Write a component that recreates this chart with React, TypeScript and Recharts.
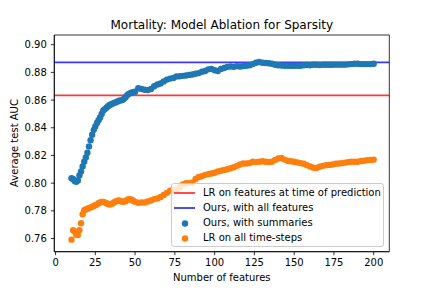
import { ComposedChart, Scatter, XAxis, YAxis, ReferenceLine, ReferenceArea } from 'recharts'

// number of features kept (every run up to 50, every second run after)
const featureCounts = [
  10, 11, 12, 13, 14, 15, 16, 17, 18, 19, 20, 21, 22, 23, 24, 25, 26, 27, 28, 29,
  30, 31, 32, 33, 34, 35, 36, 37, 38, 39, 40, 41, 42, 43, 44, 45, 46, 47, 48, 49,
  50, 52, 54, 56, 58, 60, 62, 64, 66, 68, 70, 72, 74, 76, 78, 80, 82, 84, 86, 88,
  90, 92, 94, 96, 98, 100, 102, 104, 106, 108, 110, 112, 114, 116, 118, 120, 122, 124, 126, 128,
  130, 132, 134, 136, 138, 140, 142, 144, 146, 148, 150, 152, 154, 156, 158, 160, 162, 164, 166, 168,
  170, 172, 174, 176, 178, 180, 182, 184, 186, 188, 190, 192, 194, 196, 198, 200,
]

// Ours, with summaries
const summaryAuc = [
  0.8035, 0.803, 0.8015, 0.801, 0.802, 0.8055, 0.8085, 0.812, 0.8155, 0.8185,
  0.822, 0.8265, 0.831, 0.835, 0.8385, 0.841, 0.8435, 0.8455, 0.8475, 0.85,
  0.8525, 0.8535, 0.8545, 0.8555, 0.8565, 0.857, 0.8575, 0.858, 0.8585, 0.859,
  0.8595, 0.8598, 0.86, 0.861, 0.862, 0.8635, 0.8645, 0.865, 0.8655, 0.8658,
  0.866, 0.8685, 0.868, 0.8675, 0.8672, 0.868, 0.87, 0.8712, 0.872, 0.8735,
  0.8748, 0.8755, 0.876, 0.877, 0.8772, 0.8775, 0.8778, 0.8782, 0.8785, 0.879,
  0.8795, 0.8805, 0.881, 0.8822, 0.8825, 0.8815, 0.881, 0.8825, 0.8832, 0.884,
  0.8843, 0.884, 0.8845, 0.8843, 0.8845, 0.8848, 0.8852, 0.886, 0.887, 0.8875,
  0.887, 0.8868, 0.8866, 0.8862, 0.8855, 0.8852, 0.885, 0.8848, 0.8848, 0.8847,
  0.8848, 0.8848, 0.8848, 0.8852, 0.8853, 0.8852, 0.8855, 0.8855, 0.8853, 0.8855,
  0.8855, 0.8855, 0.8855, 0.8856, 0.8856, 0.8856, 0.8856, 0.8858, 0.886, 0.8862,
  0.8862, 0.886, 0.886, 0.886, 0.886, 0.8862,
]

// LR on all time-steps
const timeStepAuc = [
  0.7592, 0.766, 0.765, 0.7628, 0.7625, 0.766, 0.771, 0.7775, 0.7805, 0.781,
  0.7815, 0.782, 0.7825, 0.783, 0.7835, 0.784, 0.7845, 0.7855, 0.786, 0.7865,
  0.7865, 0.786, 0.7855, 0.785, 0.7845, 0.785, 0.7855, 0.7862, 0.787, 0.7873,
  0.7875, 0.787, 0.7865, 0.7868, 0.787, 0.7878, 0.7885, 0.7882, 0.788, 0.7872,
  0.7865, 0.7858, 0.786, 0.786, 0.7868, 0.7875, 0.7885, 0.789, 0.79, 0.7915,
  0.793, 0.7945, 0.795, 0.7955, 0.797, 0.799, 0.8, 0.8, 0.8005, 0.803,
  0.8045, 0.805, 0.806, 0.8065, 0.807, 0.8075, 0.8085, 0.809, 0.8095, 0.81,
  0.8108, 0.8115, 0.8125, 0.8135, 0.8142, 0.8142, 0.8145, 0.8155, 0.8152, 0.8155,
  0.8158, 0.8155, 0.8152, 0.8155, 0.8168, 0.8178, 0.8182, 0.817, 0.816, 0.8158,
  0.8155, 0.815, 0.8145, 0.814, 0.813, 0.812, 0.8112, 0.811, 0.8118, 0.8125,
  0.813, 0.8132, 0.8135, 0.814, 0.8142, 0.8145, 0.8148, 0.8152, 0.8155, 0.8155,
  0.8155, 0.816, 0.8162, 0.8165, 0.8168, 0.817,
]

const lrPredictionAuc = 0.8634
const allFeaturesAuc = 0.8872

const xTicks = [0, 25, 50, 75, 100, 125, 150, 175, 200]
const yTicks = [0.76, 0.78, 0.8, 0.82, 0.84, 0.86, 0.88, 0.9]

const X_DOMAIN: [number, number] = [-0.8, 209.8]
const Y_DOMAIN: [number, number] = [0.7505, 0.907]

const BLUE = '#1f77b4'
const ORANGE = '#ff7f0e'
const FONT = '"DejaVu Sans", sans-serif'

const summaryData = featureCounts.map((n, i) => ({ n, auc: summaryAuc[i] }))
const timeStepData = featureCounts.map((n, i) => ({ n, auc: timeStepAuc[i] }))

const dot = (p: any) => <circle cx={p.cx} cy={p.cy} r={3.2} fill={p.fill} />

const legendItems = [
  { label: 'LR on features at time of prediction', kind: 'line', color: '#ff0000' },
  { label: 'Ours, with all features', kind: 'line', color: '#0000ff' },
  { label: 'Ours, with summaries', kind: 'dot', color: BLUE },
  { label: 'LR on all time-steps', kind: 'dot', color: ORANGE },
]

export default function App() {
  const tick = { fontSize: 10, fill: '#000', fontFamily: FONT }
  return (
    <div style={{ position: 'absolute', left: 0, top: 0, width: 432, height: 288, background: '#fff' }}>
      <ComposedChart width={432} height={288} margin={{ top: 35, right: 42.7, bottom: 6, left: 0 }}>
        <XAxis
          dataKey="n"
          type="number"
          domain={X_DOMAIN}
          ticks={xTicks}
          allowDataOverflow
          height={30.3}
          tick={tick}
          tickSize={3.5}
          tickMargin={3.5}
          axisLine={{ stroke: '#000', strokeWidth: 0.8 }}
          tickLine={{ stroke: '#000', strokeWidth: 0.8 }}
        />
        <YAxis
          dataKey="auc"
          type="number"
          domain={Y_DOMAIN}
          ticks={yTicks}
          allowDataOverflow
          width={54.3}
          tick={tick}
          tickSize={3.5}
          tickMargin={4}
          tickFormatter={(v: number) => v.toFixed(2)}
          axisLine={{ stroke: '#000', strokeWidth: 0.8 }}
          tickLine={{ stroke: '#000', strokeWidth: 0.8 }}
        />
        <Scatter data={summaryData} fill={BLUE} shape={dot} isAnimationActive={false} />
        <Scatter data={timeStepData} fill={ORANGE} shape={dot} isAnimationActive={false} />
        <ReferenceLine y={lrPredictionAuc} stroke="#ff0000" strokeOpacity={0.78} strokeWidth={1.8} />
        <ReferenceLine y={allFeaturesAuc} stroke="#0000ff" strokeOpacity={0.78} strokeWidth={1.8} />
        <ReferenceArea
          x1={X_DOMAIN[0]}
          x2={X_DOMAIN[1]}
          y1={Y_DOMAIN[0]}
          y2={Y_DOMAIN[1]}
          fill="none"
          fillOpacity={0}
          stroke="#000"
          strokeWidth={0.8}
        />
      </ComposedChart>

      <svg width={432} height={288} style={{ position: 'absolute', left: 0, top: 0, pointerEvents: 'none' }}>
        <text x={221.8} y={29} textAnchor="middle" fontSize={12} fontFamily={FONT} fill="#000">
          Mortality: Model Ablation for Sparsity
        </text>
        <text x={221.8} y={280.6} textAnchor="middle" fontSize={10} fontFamily={FONT} fill="#000">
          Number of features
        </text>
        <text
          x={0}
          y={0}
          transform="translate(18,143) rotate(-90)"
          textAnchor="middle"
          fontSize={10}
          fontFamily={FONT}
          fill="#000"
        >
          Average test AUC
        </text>
      </svg>

      {/* Legend */}
      <div
        style={{
          position: 'absolute',
          left: 171,
          top: 183,
          width: 213,
          height: 64,
          boxSizing: 'border-box',
          background: 'rgba(255,255,255,0.8)',
          border: '1px solid #cccccc',
          borderRadius: 3,
          fontFamily: FONT,
          fontSize: 10,
          color: '#000',
        }}
      >
        {legendItems.map((item, i) => (
          <div
            key={item.label}
            style={{ position: 'absolute', left: 1, top: 2.7 + i * 15.2, height: 12, display: 'flex', alignItems: 'center' }}
          >
            <svg width={24} height={12} style={{ flexShrink: 0 }}>
              {item.kind === 'line' ? (
                <line x1={1} x2={22} y1={6} y2={6} stroke={item.color} strokeOpacity={0.78} strokeWidth={1.8} />
              ) : (
                <circle cx={12} cy={6.5} r={3.2} fill={item.color} />
              )}
            </svg>
            <span style={{ marginLeft: 6, whiteSpace: 'nowrap', lineHeight: '12px' }}>{item.label}</span>
          </div>
        ))}
      </div>
    </div>
  )
}
